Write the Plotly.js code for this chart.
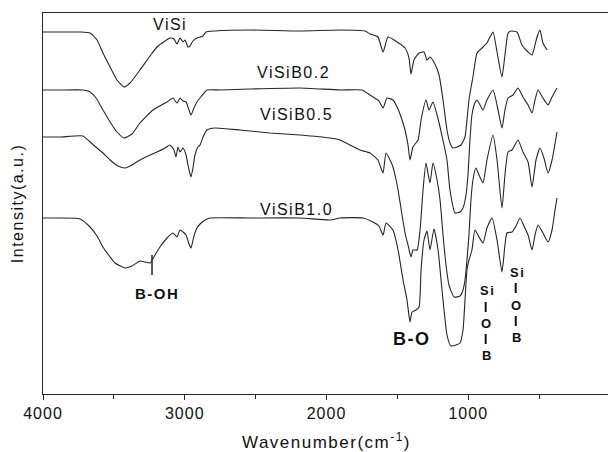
<!DOCTYPE html>
<html>
<head>
<meta charset="utf-8">
<script src="https://cdn.plot.ly/plotly-3.0.1.min.js"></script>
<style>
  html, body { margin: 0; padding: 0; width: 608px; height: 452px; overflow: hidden; background: #fff; }
  #chart { width: 612px; height: 452px; }
  .annotation-text { letter-spacing: 1.5px; }
  .xtick text { letter-spacing: 1px; }
  .g-xtitle text, .g-ytitle text { letter-spacing: 1.5px; }
</style>
</head>
<body>
<div id="chart"></div>
<script>
// FTIR spectra of the ViSi / ViSiB series, offset vertically (arbitrary units)
const visiWn = [4000,3880,3739,3668,3619,3577,3527,3478,3429,3386,3316,3245,3196,3139,3104,3076,3055,3033,3012,2998,2977,2963,2942,2914,2871,2850,2787,2540,2187,1905,1728,1693,1637,1601,1566,1502,1446,1418,1404,1383,1347,1312,1291,1270,1235,1206,1178,1150,1129,1108,1079,1051,1023,1009,995,981,967,938,903,868,847,825,797,762,741,719,698,656,621,578,550,515,494,473,444];
const visiI  = [362,362,362,361,354,341,327,314,307,311,324,338,347,353,356,355,350,356,352,354,347,348,353,356,358,362,363,364,363,364,363,360,357,342,357,352,346,336,320,334,341,342,334,337,330,319,294,264,251,246,247,249,257,274,294,306,317,341,346,351,357,362,342,317,339,361,363,362,349,342,339,357,364,351,344];

const b02Wn = [4000,3880,3718,3668,3626,3577,3527,3478,3429,3372,3316,3224,3125,3083,3055,3033,3012,2991,2970,2956,2935,2914,2892,2843,2751,2540,2187,1905,1750,1672,1630,1601,1573,1531,1502,1474,1446,1425,1411,1390,1354,1333,1298,1277,1249,1220,1199,1171,1150,1129,1093,1058,1037,1016,1002,988,974,953,938,917,896,868,825,797,762,741,719,684,649,614,578,550,529,508,473,437,409,374];
const b02I  = [304,304,304,302,296,284,272,262,256,260,271,284,292,296,291,296,293,292,284,279,286,292,296,304,304,305,306,304,304,297,293,286,296,294,287,277,264,249,234,247,254,274,294,284,292,279,267,249,234,204,181,182,186,199,219,254,279,291,294,289,284,294,304,289,266,284,296,299,306,297,289,281,294,304,296,289,297,306];

const b05Wn = [4000,3880,3718,3668,3619,3577,3527,3471,3421,3372,3316,3245,3196,3139,3104,3076,3062,3048,3033,3012,2991,2977,2963,2956,2942,2928,2907,2892,2871,2843,2787,2610,2399,2187,1975,1905,1834,1764,1693,1637,1616,1601,1580,1552,1531,1509,1495,1467,1446,1425,1404,1390,1361,1340,1319,1298,1270,1249,1220,1199,1178,1157,1136,1100,1058,1037,1023,1009,995,981,967,946,924,896,868,825,797,762,741,719,691,649,614,578,550,522,494,466,437,409,374];
const b05I  = [257,257,258,252,246,241,234,228,226,229,234,239,242,246,249,244,237,247,242,246,239,229,220,217,226,239,247,249,257,264,266,264,261,259,256,254,249,244,241,234,226,221,241,234,227,214,204,179,161,149,137,144,144,164,204,231,211,231,214,194,159,129,109,97,98,104,114,134,159,194,214,226,219,211,234,259,234,186,219,242,244,254,242,232,207,234,246,236,221,234,262];

const b10Wn = [4000,3880,3739,3668,3619,3577,3527,3492,3421,3372,3316,3280,3245,3210,3175,3125,3083,3055,3033,3012,2991,2970,2956,2935,2914,2892,2857,2822,2540,2187,1975,1905,1742,1672,1630,1601,1580,1531,1495,1460,1432,1411,1397,1369,1347,1333,1312,1291,1270,1242,1213,1185,1150,1122,1086,1058,1037,1023,1009,995,974,953,924,896,868,832,797,762,741,727,691,663,635,607,578,550,529,508,473,437,409,388,374];
const b10I  = [176,176,175,167,158,147,137,131,126,128,133,132,131,139,147,156,161,157,164,162,159,150,146,158,166,170,174,176,176,176,174,176,176,172,168,159,171,164,144,114,94,72,82,84,87,124,154,163,144,165,144,104,59,48,49,51,64,94,124,134,144,164,157,151,166,176,154,122,149,161,162,168,176,168,159,144,159,169,161,152,164,184,196];

// Sample names and peak assignments
const seriesNames = ['ViSi', 'ViSiB0.2', 'ViSiB0.5', 'ViSiB1.0'];
const nameWn = [3104, 2236, 2215, 2215];
const nameI  = [370, 322, 280, 185];

const bandLabels = ['B-OH', 'B-O'];
const bandWn = [3196, 1397];
const bandI  = [101, 55];
const bandSize = [15, 18];

const bohMarkWn = 3231;      // B-OH shoulder marker
const bohMarkI  = [119, 139];

// Si–O–B bridge labels: atoms stacked vertically, joined by short bonds
const siobAtoms = ['Si', 'O', 'B'];
const siobWn = [865, 653];
const siobAtomI = [[104, 71, 39], [122, 89, 57]];
const siobBondI = [[[82, 92], [50, 60]], [[101, 111], [68, 78]]];

const xTicks = [4000, 3000, 2000, 1000, 0];
const xMinor = [3500, 2500, 1500, 500];

const lineColor = '#262626';
const fontFam = '"Liberation Sans", Arial, sans-serif';

const traces = [[visiWn, visiI], [b02Wn, b02I], [b05Wn, b05I], [b10Wn, b10I]].map((d, k) => ({
  x: d[0], y: d[1], type: 'scatter', mode: 'lines', name: seriesNames[k],
  line: { color: lineColor, width: 1.1, shape: 'spline', smoothing: 0.5 },
  hoverinfo: 'skip'
}));

const annotations = [];
seriesNames.forEach((s, k) => annotations.push({
  x: nameWn[k], y: nameI[k], xref: 'x', yref: 'y', text: s, showarrow: false,
  font: { family: fontFam, size: 16, color: '#111' }
}));
bandLabels.forEach((s, k) => annotations.push({
  x: bandWn[k], y: bandI[k], xref: 'x', yref: 'y', text: '<b>' + s + '</b>', showarrow: false,
  font: { family: fontFam, size: bandSize[k], color: '#111' }
}));
siobWn.forEach((wn, j) => siobAtoms.forEach((a, i) => annotations.push({
  x: wn, y: siobAtomI[j][i], xref: 'x', yref: 'y', text: '<b>' + a + '</b>', showarrow: false,
  font: { family: fontFam, size: 13, color: '#111' }
})));

const shapes = [{
  type: 'line', xref: 'x', yref: 'y', x0: bohMarkWn, x1: bohMarkWn, y0: bohMarkI[0], y1: bohMarkI[1],
  line: { color: lineColor, width: 1.5 }
}];
siobWn.forEach((wn, j) => siobBondI[j].forEach(b => shapes.push({
  type: 'line', xref: 'x', yref: 'y', x0: wn + 12, x1: wn + 12, y0: b[0], y1: b[1],
  line: { color: '#111', width: 2 }
})));

const layout = {
  width: 612, height: 452,
  margin: { l: 43, r: 2, t: 13, b: 58 },
  paper_bgcolor: '#fff', plot_bgcolor: '#fff',
  showlegend: false,
  font: { family: fontFam, color: '#111' },
  xaxis: {
    range: [4000, 0], tickvals: xTicks, ticktext: xTicks.map(String),
    ticks: 'outside', ticklen: 5, tickwidth: 1, tickcolor: lineColor,
    minor: { tickvals: xMinor, ticks: 'outside', ticklen: 4, tickcolor: lineColor },
    showline: true, mirror: true, linecolor: lineColor, linewidth: 1.2,
    showgrid: false, zeroline: false,
    tickfont: { family: fontFam, size: 16, color: '#111' },
    title: { text: 'Wavenumber(cm<sup>-1</sup>)', standoff: 16, font: { family: fontFam, size: 17, color: '#111' } }
  },
  yaxis: {
    range: [0, 381], showticklabels: false, ticks: '',
    showline: true, mirror: true, linecolor: lineColor, linewidth: 1.2,
    showgrid: false, zeroline: false,
    title: { text: 'Intensity(a.u.)', standoff: 14, font: { family: fontFam, size: 16, color: '#111' } }
  },
  shapes: shapes,
  annotations: annotations
};

Plotly.newPlot('chart', traces, layout, { staticPlot: true, displayModeBar: false });
</script>
</body>
</html>
